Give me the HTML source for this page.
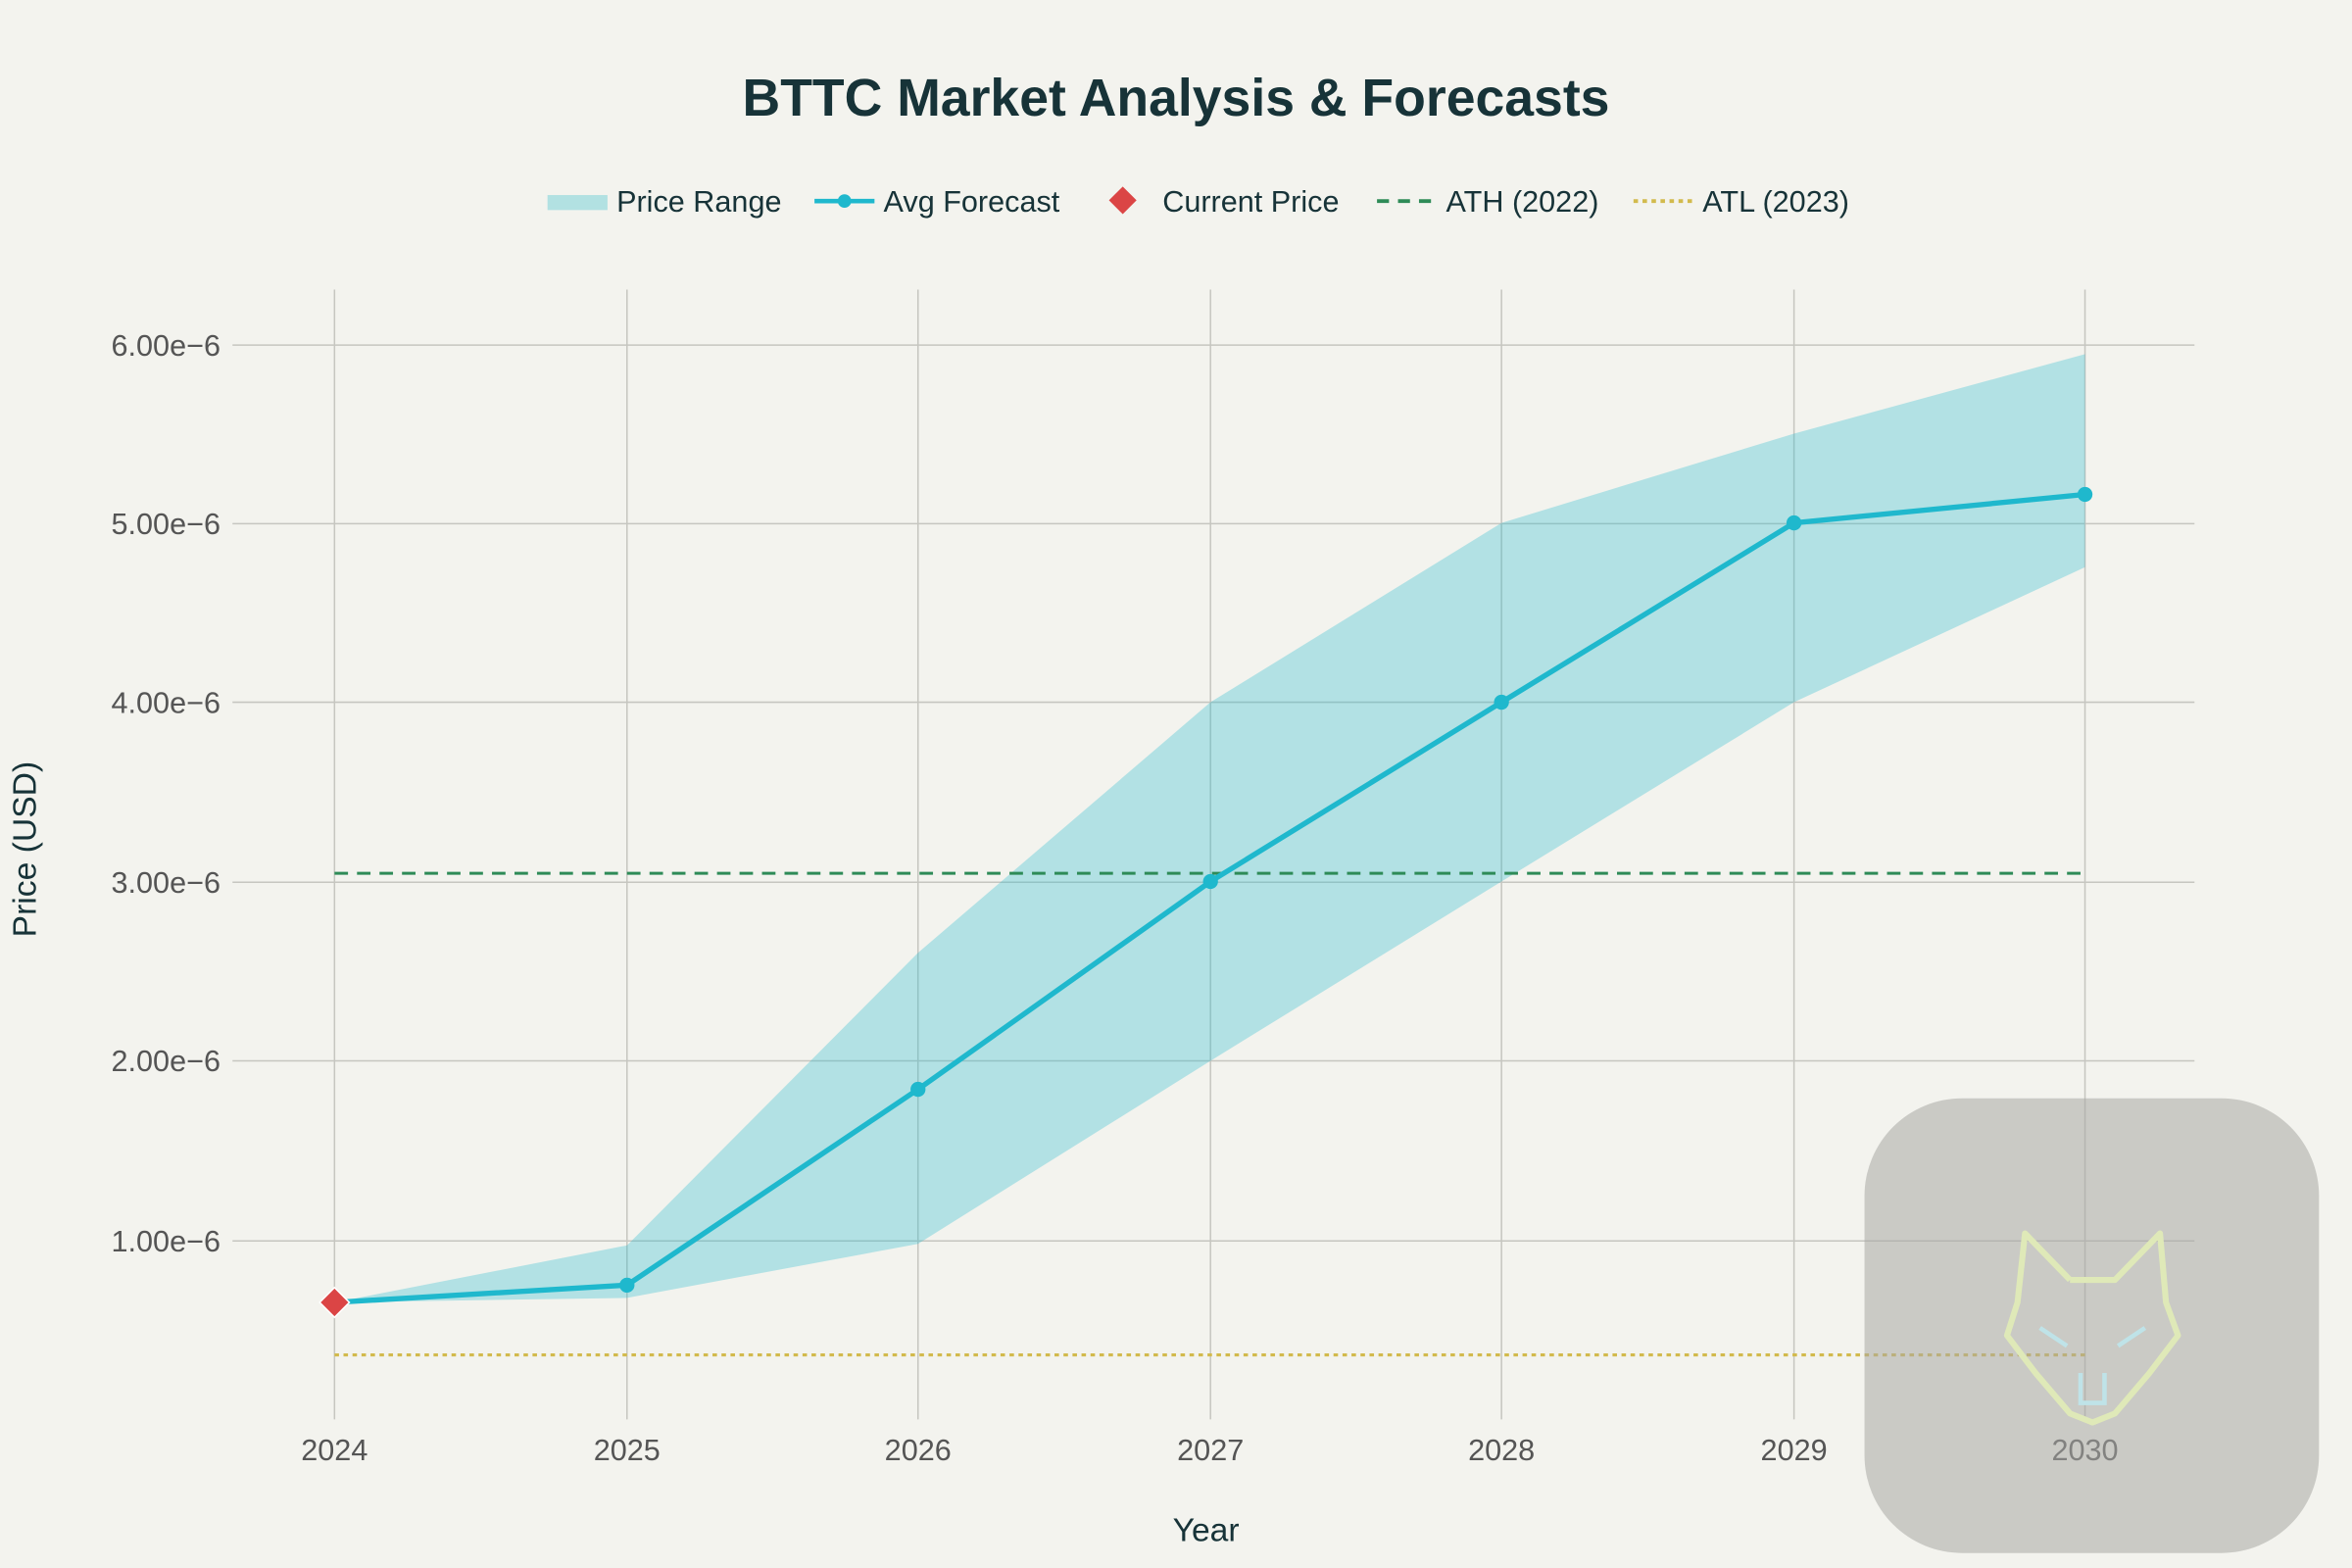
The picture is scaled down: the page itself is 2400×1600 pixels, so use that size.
<!DOCTYPE html>
<html><head><meta charset="utf-8"><style>
html,body{margin:0;padding:0;background:#f3f3ee;}
svg{display:block;}
text{font-family:"Liberation Sans",sans-serif;}
</style></head><body>
<svg width="2400" height="1600" viewBox="0 0 1568 1045" preserveAspectRatio="none" xmlns="http://www.w3.org/2000/svg">
<rect width="1568" height="1045" fill="#f3f3ee"/>
<text x="784" y="77" text-anchor="middle" font-size="35" font-weight="bold" fill="#173338">BTTC Market Analysis &amp; Forecasts</text>
<g font-size="20" fill="#173338">
<rect x="365" y="130" width="40" height="10" fill="#b2e1e2"/>
<text x="411" y="141">Price Range</text>
<line x1="543" y1="134" x2="583" y2="134" stroke="#1fb8cd" stroke-width="3"/>
<circle cx="563" cy="134" r="4.5" fill="#1fb8cd"/>
<text x="589" y="141">Avg Forecast</text>
<rect x="742" y="127" width="13" height="13" fill="#db4545" transform="rotate(45 748.5 133.5)"/>
<text x="775" y="141">Current Price</text>
<line x1="918" y1="134" x2="958" y2="134" stroke="#2e8b57" stroke-width="2.5" stroke-dasharray="8,6"/>
<text x="964" y="141">ATH (2022)</text>
<line x1="1089" y1="134" x2="1129" y2="134" stroke="#d2ba4c" stroke-width="2.5" stroke-dasharray="3,3"/>
<text x="1135" y="141">ATL (2023)</text>
</g>
<g stroke="#c6c6c0" stroke-width="1">
<line x1="155" y1="230" x2="1463" y2="230"/>
<line x1="155" y1="349" x2="1463" y2="349"/>
<line x1="155" y1="468" x2="1463" y2="468"/>
<line x1="155" y1="588" x2="1463" y2="588"/>
<line x1="155" y1="707" x2="1463" y2="707"/>
<line x1="155" y1="827" x2="1463" y2="827"/>
<line x1="223" y1="193" x2="223" y2="946"/>
<line x1="418" y1="193" x2="418" y2="946"/>
<line x1="612" y1="193" x2="612" y2="946"/>
<line x1="807" y1="193" x2="807" y2="946"/>
<line x1="1001" y1="193" x2="1001" y2="946"/>
<line x1="1196" y1="193" x2="1196" y2="946"/>
<line x1="1390" y1="193" x2="1390" y2="946"/>
</g>
<g font-size="20" fill="#555" text-anchor="end">
<text x="147" y="237">6.00e−6</text>
<text x="147" y="356">5.00e−6</text>
<text x="147" y="475">4.00e−6</text>
<text x="147" y="595">3.00e−6</text>
<text x="147" y="714">2.00e−6</text>
<text x="147" y="834">1.00e−6</text>
</g>
<g font-size="20" fill="#555" text-anchor="middle">
<text x="223" y="973">2024</text><text x="418" y="973">2025</text><text x="612" y="973">2026</text>
<text x="807" y="973">2027</text><text x="1001" y="973">2028</text><text x="1196" y="973">2029</text><text x="1390" y="973">2030</text>
</g>
<text x="804" y="1027" text-anchor="middle" font-size="22" fill="#173338">Year</text>
<text transform="translate(24 566) rotate(-90)" text-anchor="middle" font-size="22" fill="#173338">Price (USD)</text>
<polygon fill="#1fb8cd" fill-opacity="0.3" points="223,868 418,830 612,635 807,468 1001,348.5 1196,289 1390,236 1390,378 1196,468 1001,587.5 807,707 612,829 418,865 223,868"/>
<line x1="223" y1="582" x2="1390" y2="582" stroke="#2e8b57" stroke-width="2" stroke-dasharray="9,6"/>
<line x1="223" y1="903" x2="1390" y2="903" stroke="#d2ba4c" stroke-width="2" stroke-dasharray="3,3"/>
<polyline fill="none" stroke="#1fb8cd" stroke-width="3.5" points="223,868 418,856.5 612,726 807,587.5 1001,468 1196,348.5 1390,329.5"/>
<g fill="#1fb8cd">
<circle cx="418" cy="856.5" r="5"/><circle cx="612" cy="726" r="5"/><circle cx="807" cy="587.5" r="5"/>
<circle cx="1001" cy="468" r="5"/><circle cx="1196" cy="348.5" r="5"/><circle cx="1390" cy="329.5" r="5"/>
</g>
<rect x="216" y="861" width="14" height="14" fill="#db4545" stroke="#fff" stroke-width="1" transform="rotate(45 223 868)"/>
<rect x="1243" y="732" width="303" height="303" rx="65" fill="#a8a8a4" fill-opacity="0.55"/>
<g fill="none" stroke="#dfe9b8" stroke-width="4" stroke-linejoin="round">
<polyline points="1380,853 1350,822 1345,868 1338,890 1357,915 1380,942 1395,948 1410,942 1433,915 1452,890 1444,868 1440,822 1410,853 1380,853"/>
</g>
<g stroke="#bfe3e8" stroke-width="3" fill="none">
<line x1="1360" y1="885" x2="1378" y2="897"/><line x1="1430" y1="885" x2="1412" y2="897"/>
<polyline points="1387,915 1387,935 1403,935 1403,915"/>
</g>
</svg>
</body></html>
